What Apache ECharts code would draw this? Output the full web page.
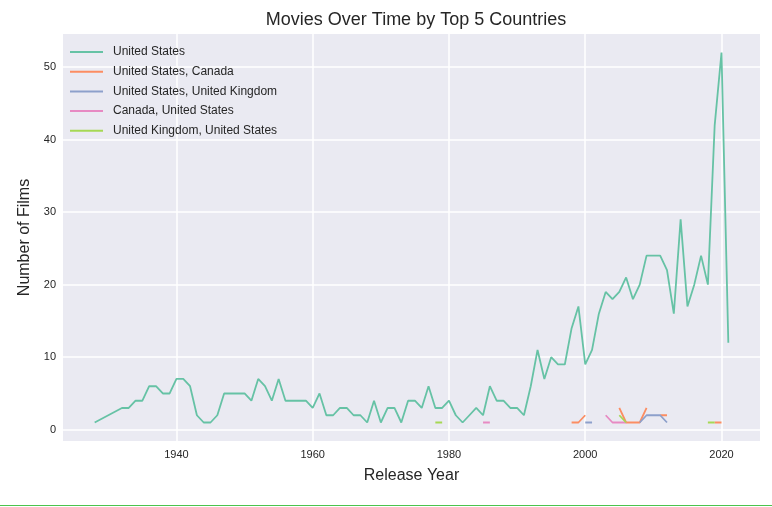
<!DOCTYPE html>
<html>
<head>
<meta charset="utf-8">
<script src="https://cdn.jsdelivr.net/npm/echarts@6/dist/echarts.min.js"></script>
<style>
  html, body { margin: 0; padding: 0; background: #fff; }
  #chart { width: 772px; height: 507px; }
  #rule { position: absolute; left: 0; top: 505px; width: 772px; height: 1px; background: #4cc24c; }
</style>
</head>
<body>
<div id="chart"></div>
<div id="rule"></div>
<script>
// years / counts per country group (null = no films that year, line breaks)
const usYears = [1928, 1932, 1933, 1934, 1935, 1936, 1937, 1938, 1939, 1940, 1941, 1942, 1943, 1944, 1945, 1946, 1947, 1948, 1949, 1950,
  1951, 1952, 1953, 1954, 1955, 1956, 1957, 1958, 1959, 1960, 1961, 1962, 1963, 1964, 1965, 1966, 1967, 1968, 1969, 1970,
  1971, 1972, 1973, 1974, 1975, 1976, 1977, 1978, 1979, 1980, 1981, 1982, 1983, 1984, 1985, 1986, 1987, 1988, 1989, 1990,
  1991, 1992, 1993, 1994, 1995, 1996, 1997, 1998, 1999, 2000, 2001, 2002, 2003, 2004, 2005, 2006, 2007, 2008, 2009, 2010,
  2011, 2012, 2013, 2014, 2015, 2016, 2017, 2018, 2019, 2020, 2021]
const usCounts = [1, 3, 3, 4, 4, 6, 6, 5, 5, 7, 7, 6, 2, 1, 1, 2, 5, 5, 5, 5,
  4, 7, 6, 4, 7, 4, 4, 4, 4, 3, 5, 2, 2, 3, 3, 2, 2, 1, 4, 1,
  3, 3, 1, 4, 4, 3, 6, 3, 3, 4, 2, 1, 2, 3, 2, 6, 4, 4, 3, 3,
  2, 6, 11, 7, 10, 9, 9, 14, 17, 9, 11, 16, 19, 18, 19, 21, 18, 20, 24, 24,
  24, 22, 16, 29, 17, 20, 24, 20, 42, 52, 12]

const usCanadaYears = [1998, 1999, 2000, 2001, 2005, 2006, 2007, 2008, 2009, 2010, 2011, 2012, 2013, 2019, 2020]
const usCanadaCounts = [1, 1, 2, null, 3, 1, 1, 1, 3, null, 2, 2, null, 1, 1]

const usUkYears = [2000, 2001, 2002, 2008, 2009, 2010, 2011, 2012]
const usUkCounts = [1, 1, null, 1, 2, 2, 2, 1]

const canadaUsYears = [1985, 1986, 1987, 2003, 2004, 2005, 2006]
const canadaUsCounts = [1, 1, null, 2, 1, 1, 1]

const ukUsYears = [1978, 1979, 1980, 2005, 2006, 2007, 2018, 2019]
const ukUsCounts = [1, 1, null, 2, 1, null, 1, 1]

const seriesNames = ['United States', 'United States, Canada', 'United States, United Kingdom', 'Canada, United States', 'United Kingdom, United States']
const palette = ['#66c2a5', '#fc8d62', '#8da0cb', '#e78ac3', '#a6d854']
const xTicks = [1940, 1960, 1980, 2000, 2020]
const yTicks = [0, 10, 20, 30, 40, 50]

const pairs = (years, counts) => years.map((y, i) => [y, counts[i] == null ? '-' : counts[i]])
const allData = [
  pairs(usYears, usCounts),
  pairs(usCanadaYears, usCanadaCounts),
  pairs(usUkYears, usUkCounts),
  pairs(canadaUsYears, canadaUsCounts),
  pairs(ukUsYears, ukUsCounts)
]

const font = "'Liberation Sans', Arial, sans-serif"
const chart = echarts.init(document.getElementById('chart'), null, { renderer: 'canvas' })

const option = {
  animation: false,
  color: palette,
  textStyle: { fontFamily: font },
  title: {
    text: 'Movies Over Time by Top 5 Countries',
    left: 411,
    textAlign: 'center',
    top: 6,
    textStyle: { fontSize: 18, fontWeight: 'normal', color: '#262626', fontFamily: font }
  },
  legend: {
    orient: 'vertical',
    left: 70,
    top: 45,
    padding: 0,
    itemWidth: 33,
    itemHeight: 2,
    itemGap: 5.7,
    icon: 'rect',
    data: seriesNames,
    textStyle: { fontSize: 12, color: '#262626', fontFamily: font, padding: [0, 0, 0, 5], lineHeight: 14 }
  },
  grid: {
    left: 63,
    right: 12,
    top: 34,
    bottom: 66,
    show: true,
    backgroundColor: '#eaeaf2',
    borderWidth: 0,
    containLabel: false
  },
  xAxis: {
    type: 'value',
    min: 1923.35,
    max: 2025.65,
    name: 'Release Year',
    nameLocation: 'middle',
    nameGap: 27,
    nameTextStyle: { fontSize: 16, color: '#262626', fontFamily: font },
    axisLine: { show: false },
    axisTick: { show: false, customValues: xTicks },
    axisLabel: { customValues: xTicks, formatter: v => String(v), color: '#262626', fontSize: 11, margin: 8, fontFamily: font },
    splitLine: { show: true, lineStyle: { color: '#ffffff', width: 1.5 } }
  },
  yAxis: {
    type: 'value',
    min: -1.55,
    max: 54.55,
    name: 'Number of Films',
    nameLocation: 'middle',
    nameGap: 29,
    nameTextStyle: { fontSize: 16, color: '#262626', fontFamily: font },
    axisLine: { show: false },
    axisTick: { show: false, customValues: yTicks },
    axisLabel: { customValues: yTicks, color: '#262626', fontSize: 11, margin: 7, fontFamily: font },
    splitLine: { show: true, lineStyle: { color: '#ffffff', width: 1.5 } }
  },
  series: seriesNames.map((name, i) => ({
    name: name,
    type: 'line',
    data: allData[i],
    symbol: 'none',
    connectNulls: false,
    lineStyle: { width: 1.8, color: palette[i] },
    itemStyle: { color: palette[i] }
  }))
}

chart.setOption(option)
</script>
</body>
</html>
